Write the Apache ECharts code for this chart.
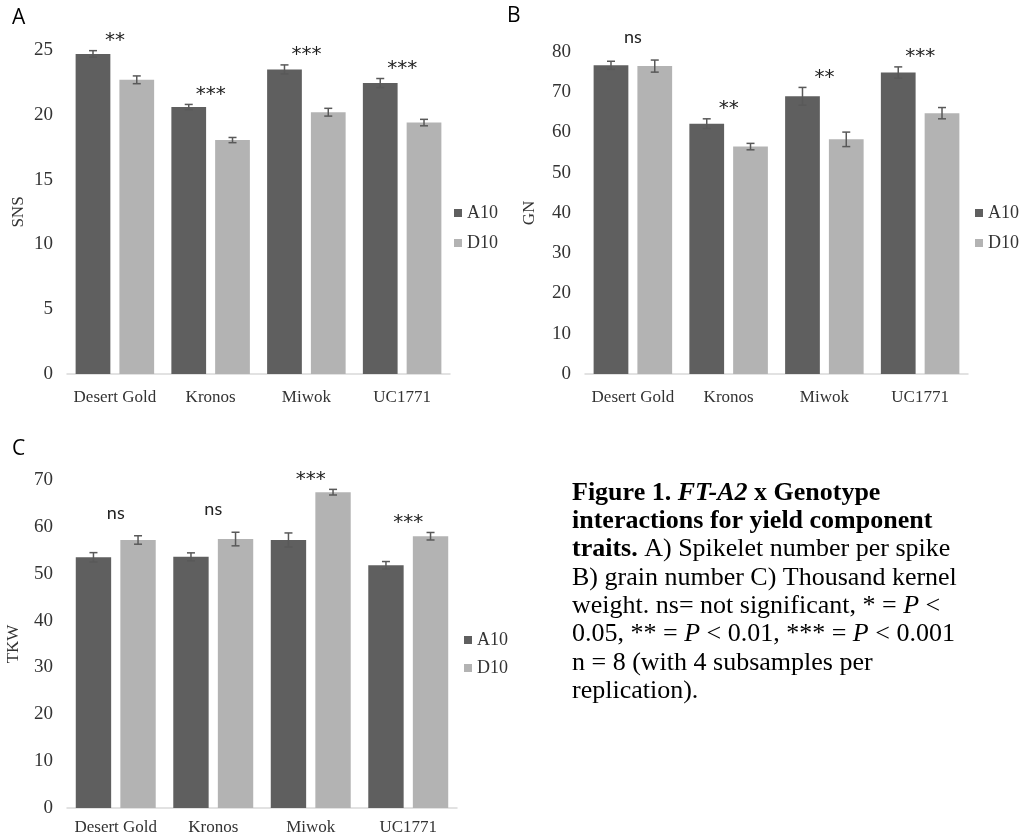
<!DOCTYPE html>
<html>
<head>
<meta charset="utf-8">
<script src="https://cdn.jsdelivr.net/npm/echarts@6/dist/echarts.min.js"></script>
<style>
  html, body { margin: 0; padding: 0; background: #fff; }
  #main { width: 1021px; height: 834px; }
</style>
</head>
<body>
<div id="main"></div>
<script>
// genotypes and treatments
const genotypes = ['Desert Gold', 'Kronos', 'Miwok', 'UC1771'];
const treatments = ['A10', 'D10'];

// A) spikelet number per spike
const snsA10 = [24.7, 20.6, 23.5, 22.45];
const snsA10Err = [0.25, 0.2, 0.35, 0.35];
const snsD10 = [22.7, 18.05, 20.2, 19.4];
const snsD10Err = [0.3, 0.2, 0.3, 0.25];
const snsSig = ['**', '***', '***', '***'];

// B) grain number
const gnA10 = [76.7, 62.2, 69.0, 74.9];
const gnA10Err = [1.0, 1.2, 2.2, 1.4];
const gnD10 = [76.5, 56.5, 58.3, 64.8];
const gnD10Err = [1.5, 0.8, 1.8, 1.4];
const gnSig = ['ns', '**', '**', '***'];

// C) thousand kernel weight
const tkwA10 = [53.5, 53.6, 57.2, 51.8];
const tkwA10Err = [1.0, 0.85, 1.5, 0.8];
const tkwD10 = [57.2, 57.4, 67.4, 58.0];
const tkwD10Err = [0.9, 1.45, 0.6, 0.8];
const tkwSig = ['ns', 'ns', '***', '***'];

const DARK = '#5f5f5f';
const LIGHT = '#b3b3b3';
const SERIF = '"Liberation Serif", "Times New Roman", serif';
const SANS = 'Lato, "Open Sans", sans-serif';
const CAT_GAP = 0.18, BAR_GAP = 0.26;

function errRender(side) {
  return function (params, api) {
    const i = api.value(0), v = api.value(1), e = api.value(2);
    const cw = api.size([1, 0])[0];
    const bw = cw * (1 - CAT_GAP) / (2 + BAR_GAP);
    const off = bw * (1 + BAR_GAP) / 2 * side;
    const top = api.coord([i, v + e]);
    const bot = api.coord([i, v - e]);
    const x = top[0] + off;
    const st = { stroke: '#595959', lineWidth: 1.5 };
    return {
      type: 'group',
      children: [
        { type: 'line', shape: { x1: x, y1: top[1], x2: x, y2: bot[1] }, style: st },
        { type: 'line', shape: { x1: x - 4, y1: top[1], x2: x + 4, y2: top[1] }, style: st },
        { type: 'line', shape: { x1: x - 4, y1: bot[1], x2: x + 4, y2: bot[1] }, style: st }
      ]
    };
  };
}

// significance marks sit a little above the taller error bar
function sigRender(params, api) {
  const i = api.value(0), top = api.value(1);
  const txt = api.value(2);
  const p = api.coord([i, top]);
  const isStar = txt.indexOf('*') >= 0;
  return {
    type: 'text',
    style: {
      text: txt,
      x: p[0],
      y: p[1] - (isStar ? 0 : 14),
      align: 'center',
      verticalAlign: 'bottom',
      font: isStar ? '20px "DejaVu Sans", sans-serif' : '18px ' + SANS,
      fill: '#222'
    }
  };
}

function panelSeries(idx, a10, a10e, d10, d10e, sig) {
  const tops = genotypes.map((g, i) => Math.max(a10[i] + a10e[i], d10[i] + d10e[i]));
  return [
    { name: 'A10', type: 'bar', xAxisIndex: idx, yAxisIndex: idx, data: a10,
      itemStyle: { color: DARK }, barCategoryGap: (CAT_GAP * 100) + '%', barGap: (BAR_GAP * 100) + '%' },
    { name: 'D10', type: 'bar', xAxisIndex: idx, yAxisIndex: idx, data: d10,
      itemStyle: { color: LIGHT }, barCategoryGap: (CAT_GAP * 100) + '%', barGap: (BAR_GAP * 100) + '%' },
    { name: 'errA' + idx, type: 'custom', xAxisIndex: idx, yAxisIndex: idx, z: 5,
      renderItem: errRender(-1), data: a10.map((v, i) => [i, v, a10e[i]]) },
    { name: 'errD' + idx, type: 'custom', xAxisIndex: idx, yAxisIndex: idx, z: 5,
      renderItem: errRender(1), data: d10.map((v, i) => [i, v, d10e[i]]) },
    { name: 'sig' + idx, type: 'custom', xAxisIndex: idx, yAxisIndex: idx, z: 5,
      renderItem: sigRender, data: tops.map((t, i) => [i, t, sig[i]]) }
  ];
}

function xAx(idx, margin) {
  return {
    type: 'category', gridIndex: idx, data: genotypes,
    axisLine: { lineStyle: { color: '#d9d9d9', width: 1.5 } },
    axisTick: { show: false },
    axisLabel: { fontFamily: SERIF, fontSize: 17, color: '#333', margin: margin, interval: 0 }
  };
}

function yAx(idx, name, max, step, gap) {
  return {
    type: 'value', gridIndex: idx, min: 0, max: max, interval: step,
    name: name, nameLocation: 'middle', nameRotate: 90, nameGap: gap,
    nameTextStyle: { fontFamily: SERIF, fontSize: 17, color: '#333' },
    axisLine: { show: false }, axisTick: { show: false }, splitLine: { show: false },
    axisLabel: { fontFamily: SERIF, fontSize: 19, color: '#333', margin: 14 }
  };
}

function leg(left, top, gap) {
  return {
    data: treatments, orient: 'vertical', left: left, top: top,
    itemWidth: 8, itemHeight: 8, itemGap: gap, icon: 'rect',
    textStyle: { fontFamily: SERIF, fontSize: 18, color: '#333' }
  };
}

// caption lines with rich text markup
const caption = [
  '{b|Figure 1. }{bi|FT-A2}{b| x Genotype}',
  '{b|interactions for yield component}',
  '{b|traits.} A) Spikelet number per spike',
  'B) grain number C) Thousand kernel',
  'weight. ns= not significant, * = {i|P} <',
  '0.05, ** = {i|P} < 0.01, *** = {i|P} < 0.001',
  'n = 8 (with 4 subsamples per',
  'replication).'
];
const capFont = 26;
const capRich = {
  b: { fontFamily: SERIF, fontSize: capFont, fontWeight: 'bold', fill: '#000' },
  bi: { fontFamily: SERIF, fontSize: capFont, fontWeight: 'bold', fontStyle: 'italic', fill: '#000' },
  i: { fontFamily: SERIF, fontSize: capFont, fontStyle: 'italic', fill: '#000' }
};

const graphics = [
  { type: 'text', left: 12, top: 8, style: { text: 'A', font: '21px "Open Sans", sans-serif', fill: '#000' } },
  { type: 'text', left: 507, top: 6, style: { text: 'B', font: '21px "Open Sans", sans-serif', fill: '#000' } },
  { type: 'text', left: 12, top: 439, style: { text: 'C', font: '21px "Open Sans", sans-serif', fill: '#000' } }
];
caption.forEach((line, k) => {
  graphics.push({
    type: 'text', left: 572, top: 494 + k * 28.3 - 14,
    style: { text: line, fontFamily: SERIF, fontSize: capFont, fill: '#000', rich: capRich }
  });
});

const chart = echarts.init(document.getElementById('main'));
chart.setOption({
  animation: false,
  backgroundColor: '#fff',
  grid: [
    { left: 67, top: 50, width: 383, height: 324, outerBoundsMode: 'none' },
    { left: 585, top: 52, width: 383, height: 322, outerBoundsMode: 'none' },
    { left: 67, top: 480, width: 390, height: 328, outerBoundsMode: 'none' }
  ],
  xAxis: [xAx(0, 15), xAx(1, 15), xAx(2, 11)],
  yAxis: [yAx(0, 'SNS', 25, 5, 40), yAx(1, 'GN', 80, 10, 47), yAx(2, 'TKW', 70, 10, 45)],
  legend: [leg(449, 199, 12), leg(970, 199, 12), leg(459, 626, 10)],
  series: [].concat(
    panelSeries(0, snsA10, snsA10Err, snsD10, snsD10Err, snsSig),
    panelSeries(1, gnA10, gnA10Err, gnD10, gnD10Err, gnSig),
    panelSeries(2, tkwA10, tkwA10Err, tkwD10, tkwD10Err, tkwSig)
  ),
  graphic: graphics
});
</script>
</body>
</html>
